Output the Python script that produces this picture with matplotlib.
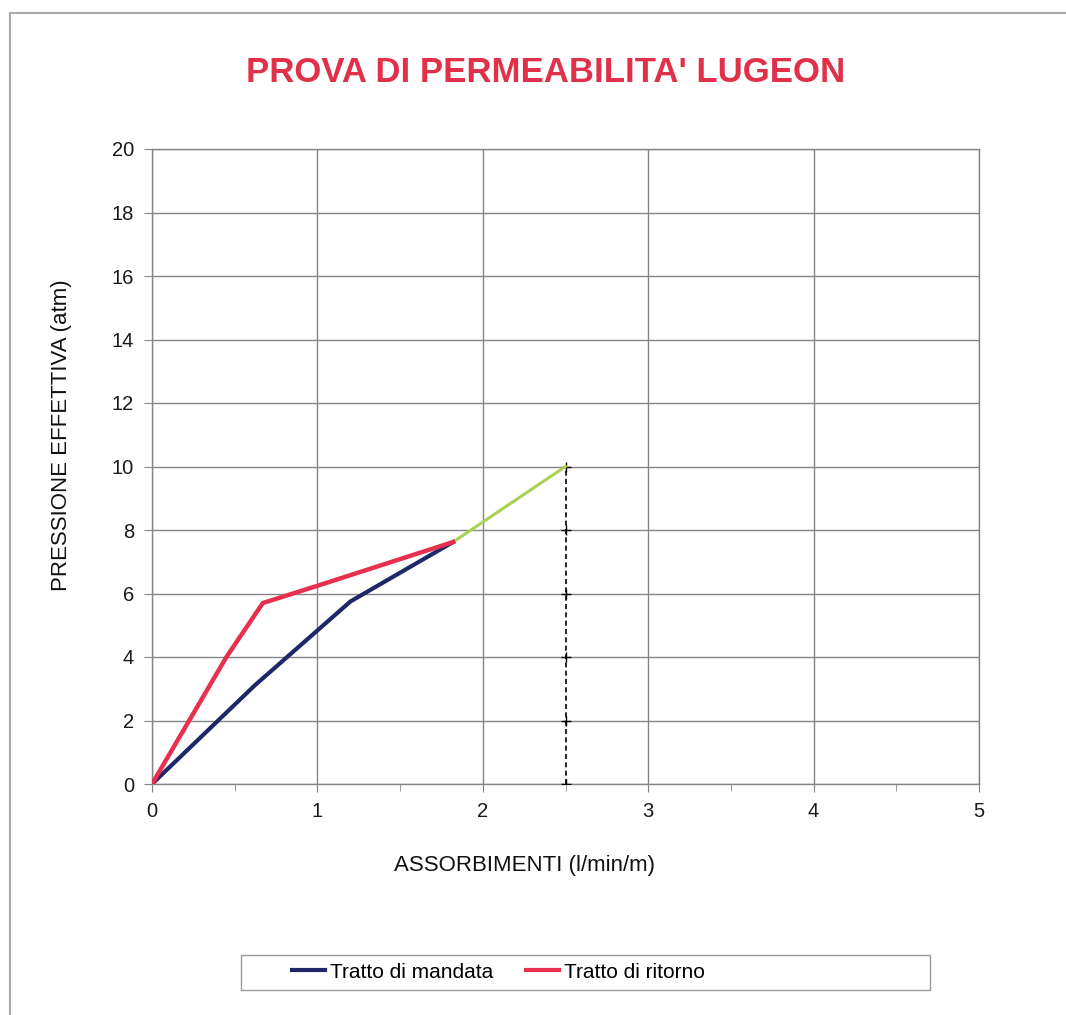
import matplotlib
matplotlib.use("Agg")
import matplotlib.pyplot as plt
from matplotlib.lines import Line2D
from matplotlib.patches import Rectangle
from matplotlib.ticker import MultipleLocator

plt.rcParams['font.family'] = ['Liberation Sans', 'DejaVu Sans']

# curva di mandata (pressione crescente)
mandata_x = [0, 0.62, 1.2, 1.82]
mandata_y = [0, 3.1, 5.75, 7.62]

# curva di ritorno (pressione decrescente)
ritorno_x = [0, 0.45, 0.67, 1.01, 1.29, 1.82]
ritorno_y = [0, 4.0, 5.7, 6.26, 6.73, 7.62]

# tratto fino alla pressione massima
picco_x = [1.82, 2.5]
picco_y = [7.62, 10]

# verticale dall'assorbimento al picco
vert_x = [2.5, 2.5, 2.5, 2.5, 2.5, 2.5]
vert_y = [0, 2, 4, 6, 8, 10]

legend_labels = ["Tratto di mandata", "Tratto di ritorno"]

W, H = 1066, 1015
fig = plt.figure(figsize=(W / 100, H / 100), dpi=100)
ax = fig.add_axes([152 / W, 1 - 784 / H, (979 - 152) / W, (784 - 149) / H])

ax.plot(vert_x, vert_y, color='black', lw=1.2, ls=(0, (3, 2)),
        marker='+', ms=7, mew=1, zorder=3)
ax.plot(picco_x, picco_y, color='#A9D158', lw=2.2, zorder=4)
ax.plot(mandata_x, mandata_y, color='#1E2768', lw=3, zorder=5)
ax.plot(ritorno_x, ritorno_y, color='#E6304D', lw=3.2, zorder=6)

ax.set_xlim(0, 5)
ax.set_ylim(0, 20)
ax.xaxis.set_major_locator(MultipleLocator(1))
ax.xaxis.set_minor_locator(MultipleLocator(0.5))
ax.yaxis.set_major_locator(MultipleLocator(2))
ax.grid(True, which='major', color='#858585', lw=1)
ax.set_axisbelow(True)
for s in ax.spines.values():
    s.set_color('#858585')
    s.set_linewidth(1)
ax.tick_params(which='both', direction='out', color='#858585', labelsize=14.5,
               labelcolor='#1a1a1a')
ax.tick_params(which='major', length=6, pad=7)
ax.tick_params(which='minor', length=5)

fig.text(0.5 * (243 + 848) / W, 1 - 72 / H, "PROVA DI PERMEABILITA' LUGEON",
         weight='bold', fontsize=25, color='#E0304A', ha='center', va='center')
fig.text(525 / W, 1 - 865 / H, "ASSORBIMENTI (l/min/m)",
         fontsize=16, ha='center', va='center', color='#111111')
fig.text(62 / W, 1 - 435 / H, "PRESSIONE EFFETTIVA (atm)",
         fontsize=16, ha='center', va='center', rotation=90, color='#111111')

# riquadro della legenda
fig.add_artist(Rectangle((241 / W, 1 - 990 / H), (930 - 241) / W, 35 / H,
                         transform=fig.transFigure, fill=False,
                         edgecolor='#999999', lw=1))
handles = [Line2D([], [], color='#1E2768', lw=3),
           Line2D([], [], color='#E6304D', lw=3)]
fig.legend(handles, legend_labels, loc='center left',
           bbox_to_anchor=(292 / W, 1 - 972 / H), ncol=2,
           fontsize=15, frameon=False, borderpad=0, borderaxespad=0,
           handlelength=1.6, handletextpad=0.2, columnspacing=1.6)

# cornice esterna del grafico
fig.add_artist(Line2D([10 / W, 10 / W], [0, 1 - 13 / H],
                      transform=fig.transFigure, color='#aaaaaa', lw=1.5))
fig.add_artist(Line2D([10 / W, 1], [1 - 13 / H, 1 - 13 / H],
                      transform=fig.transFigure, color='#aaaaaa', lw=1.5))

fig.savefig("out.png", dpi=100)
